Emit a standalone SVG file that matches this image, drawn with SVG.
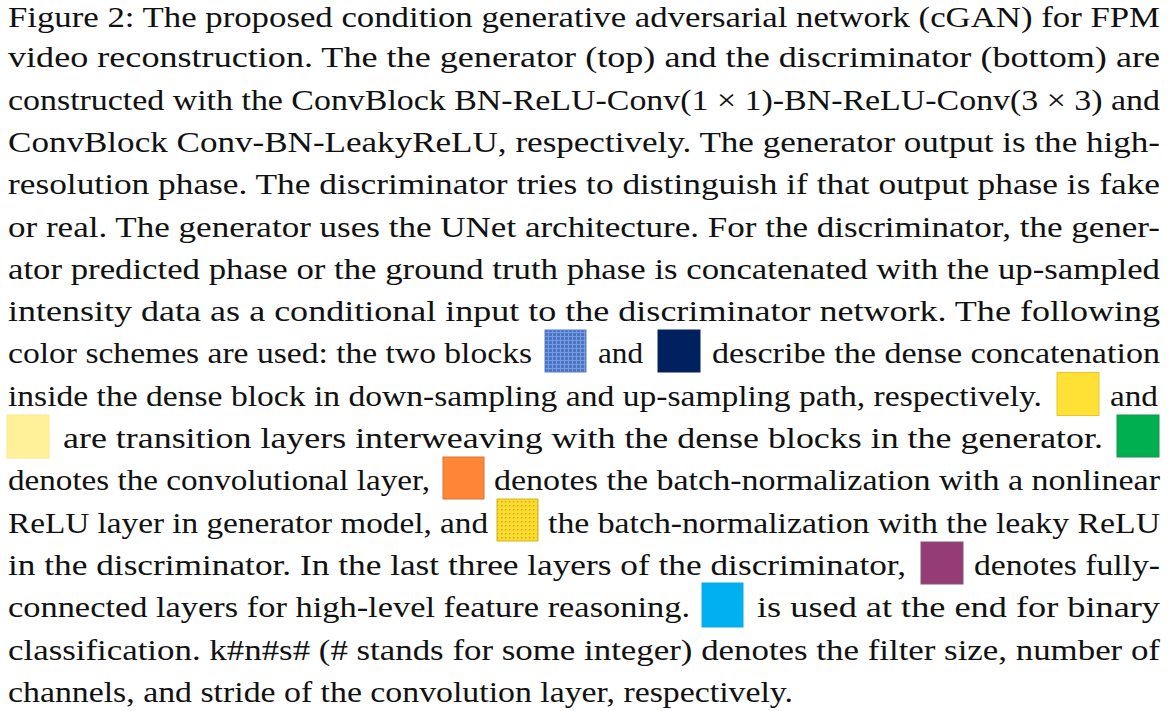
<svg xmlns="http://www.w3.org/2000/svg" width="1170" height="711" viewBox="0 0 1170 711">
<defs>
<style>
text{font-family:"Liberation Serif","Times New Roman",serif;font-size:30px;fill:#111;}
.sq{stroke-width:1;}
</style>
<pattern id="grid" width="4" height="4" patternUnits="userSpaceOnUse">
<rect width="4" height="4" fill="#4A74C8"/>
<path d="M0 0.5H4M0.5 0V4" stroke="#7A9BDD" stroke-width="1"/>
</pattern>
<pattern id="dots" width="4" height="4" patternUnits="userSpaceOnUse">
<rect width="4" height="4" fill="#FBDC2E"/>
<rect x="1" y="1" width="1.4" height="1.4" fill="#C9A414"/>
</pattern>
</defs>
<rect width="1170" height="711" fill="#fff"/>
<g id="caption-text">
<text x="8" y="26.8" textLength="1152" lengthAdjust="spacingAndGlyphs">Figure 2: The proposed condition generative adversarial network (cGAN) for FPM</text>
<text x="8" y="67.3" textLength="1152" lengthAdjust="spacingAndGlyphs">video reconstruction. The the generator (top) and the discriminator (bottom) are</text>
<text x="8" y="109.6" textLength="1152" lengthAdjust="spacingAndGlyphs">constructed with the ConvBlock BN-ReLU-Conv(1 × 1)-BN-ReLU-Conv(3 × 3) and</text>
<text x="8" y="151.9" textLength="1152" lengthAdjust="spacingAndGlyphs">ConvBlock Conv-BN-LeakyReLU, respectively. The generator output is the high-</text>
<text x="8" y="194.2" textLength="1152" lengthAdjust="spacingAndGlyphs">resolution phase. The discriminator tries to distinguish if that output phase is fake</text>
<text x="8" y="236.5" textLength="1152" lengthAdjust="spacingAndGlyphs">or real. The generator uses the UNet architecture. For the discriminator, the gener-</text>
<text x="8" y="278.8" textLength="1152" lengthAdjust="spacingAndGlyphs">ator predicted phase or the ground truth phase is concatenated with the up-sampled</text>
<text x="8" y="321.1" textLength="1152" lengthAdjust="spacingAndGlyphs">intensity data as a conditional input to the discriminator network. The following</text>
<text x="8" y="363.4" textLength="524" lengthAdjust="spacingAndGlyphs">color schemes are used: the two blocks</text>
<text x="598" y="363.4" textLength="45" lengthAdjust="spacingAndGlyphs">and</text>
<text x="712" y="363.4" textLength="448" lengthAdjust="spacingAndGlyphs">describe the dense concatenation</text>
<text x="8" y="405.7" textLength="1034" lengthAdjust="spacingAndGlyphs">inside the dense block in down-sampling and up-sampling path, respectively.</text>
<text x="1110" y="405.7" textLength="48" lengthAdjust="spacingAndGlyphs">and</text>
<text x="63" y="448" textLength="1040" lengthAdjust="spacingAndGlyphs">are transition layers interweaving with the dense blocks in the generator.</text>
<text x="8" y="490.3" textLength="422" lengthAdjust="spacingAndGlyphs">denotes the convolutional layer,</text>
<text x="494" y="490.3" textLength="666" lengthAdjust="spacingAndGlyphs">denotes the batch-normalization with a nonlinear</text>
<text x="8" y="532.6" textLength="480" lengthAdjust="spacingAndGlyphs">ReLU layer in generator model, and</text>
<text x="548" y="532.6" textLength="612" lengthAdjust="spacingAndGlyphs">the batch-normalization with the leaky ReLU</text>
<text x="8" y="574.9" textLength="898" lengthAdjust="spacingAndGlyphs">in the discriminator. In the last three layers of the discriminator,</text>
<text x="974" y="574.9" textLength="186" lengthAdjust="spacingAndGlyphs">denotes fully-</text>
<text x="8" y="617.2" textLength="682" lengthAdjust="spacingAndGlyphs">connected layers for high-level feature reasoning.</text>
<text x="757" y="617.2" textLength="403" lengthAdjust="spacingAndGlyphs">is used at the end for binary</text>
<text x="8" y="659.5" textLength="1152" lengthAdjust="spacingAndGlyphs">classification. k#n#s# (# stands for some integer) denotes the filter size, number of</text>
<text x="8" y="701.8" textLength="785" lengthAdjust="spacingAndGlyphs">channels, and stride of the convolution layer, respectively.</text>
</g>
<g id="color-swatches">
<rect id="sw-blue" class="sq" x="545" y="330" width="41" height="42" fill="url(#grid)" stroke="#5a7fc6"/>
<rect id="sw-navy" class="sq" x="658" y="330" width="42" height="42" fill="#002060" stroke="#0a2258"/>
<rect id="sw-yellow" class="sq" x="1057" y="372.5" width="42" height="43" fill="#FFE135" stroke="#e6c62c"/>
<rect id="sw-lightyellow" class="sq" x="7" y="415" width="42" height="43" fill="#FFF09A" stroke="#fbe98e"/>
<rect id="sw-green" class="sq" x="1117" y="415" width="42" height="42" fill="#00B050" stroke="#1f8f4b"/>
<rect id="sw-orange" class="sq" x="443" y="457" width="41" height="42" fill="#FF8636" stroke="#d77436"/>
<rect id="sw-dotted" class="sq" x="497" y="499" width="41" height="42" fill="url(#dots)" stroke="#d4b41c"/>
<rect id="sw-purple" class="sq" x="921" y="542" width="42" height="42" fill="#953B76" stroke="#7a5a70"/>
<rect id="sw-cyan" class="sq" x="702" y="583" width="41" height="44" fill="#00B0F0" stroke="#12a8e0"/>
</g>
</svg>
